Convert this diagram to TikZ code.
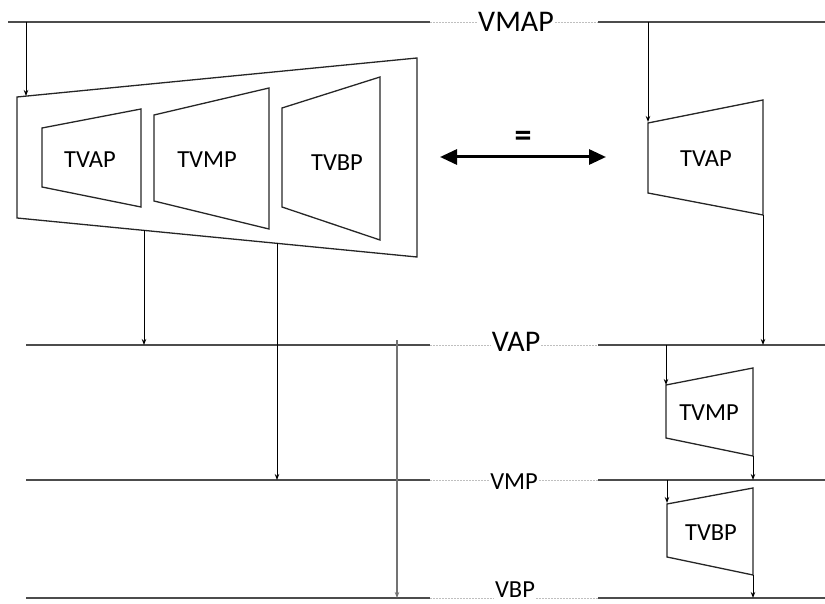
\documentclass[tikz,border=0pt]{standalone}
\usepackage{fontspec}
\setmainfont{Carlito}
\usetikzlibrary{arrows.meta}
\begin{document}
\begin{tikzpicture}[x=1pt,y=-1pt,
  bus/.style={draw=black!70, line width=1.6pt},
  gap/.style={draw=black!25, line width=0.8pt, dash pattern=on 2pt off 1pt},
  turb/.style={draw=black!85, line width=1.3pt, line join=miter},
  flow/.style={draw=black, line width=1pt, -{Stealth[length=6pt,width=4.5pt]}},
  grayflow/.style={draw=black!55, line width=1.4pt, -{Stealth[length=6pt,width=4.5pt]}},
  lbl/.style={font=\fontsize{24.5}{24.5}\selectfont, inner sep=0pt},
  buslbl/.style={font=\fontsize{30}{30}\selectfont, inner sep=1pt},
  smallbus/.style={font=\fontsize{24.5}{24.5}\selectfont, inner sep=1pt}]
\useasboundingbox (0,0) rectangle (825,604);

% ---------- buses ----------
% VMAP
\coordinate (vmapL) at (8,22);
\coordinate (vmapA) at (430,22);
\node[buslbl] (vmap) at (516,22) {VMAP};
\coordinate (vmapB) at (598,22);
\coordinate (vmapR) at (825,22);
\draw[bus] (vmapL) -- (vmapA);
\draw[gap] (vmapA) -- (vmap.west |- vmapA);
\draw[gap] (vmap.east |- vmapA) -- (vmapB);
\draw[bus] (vmapB) -- (vmapR);
% VAP
\coordinate (vapL) at (26,345);
\coordinate (vapA) at (430,345);
\node[buslbl] (vap) at (516,342) {VAP};
\coordinate (vapB) at (598,345);
\coordinate (vapR) at (825,345);
\draw[bus] (vapL) -- (vapA);
\draw[gap] (vapA) -- (vap.west |- vapA);
\draw[gap] (vap.east |- vapA) -- (vapB);
\draw[bus] (vapB) -- (vapR);
% VMP
\coordinate (vmpL) at (26,480);
\coordinate (vmpA) at (430,480);
\node[smallbus] (vmp) at (514,482) {VMP};
\coordinate (vmpB) at (598,480);
\coordinate (vmpR) at (825,480);
\draw[bus] (vmpL) -- (vmpA);
\draw[gap] (vmpA) -- (vmp.west |- vmpA);
\draw[gap] (vmp.east |- vmpA) -- (vmpB);
\draw[bus] (vmpB) -- (vmpR);
% VBP
\coordinate (vbpL) at (26,598);
\coordinate (vbpA) at (430,598);
\node[smallbus] (vbp) at (515,590) {VBP};
\coordinate (vbpB) at (598,598);
\coordinate (vbpR) at (825,598);
\draw[bus] (vbpL) -- (vbpA);
\draw[gap] (vbpA) -- (vbp.west |- vbpA);
\draw[gap] (vbp.east |- vbpA) -- (vbpB);
\draw[bus] (vbpB) -- (vbpR);

% ---------- left: combined turbine ----------
\draw[turb] (17,97) -- (417,58) -- (417,257) -- (17,218) -- cycle;
\draw[turb] (42,128) -- (141,109) -- (141,207) -- (42,187) -- cycle;
\node[lbl] (ltvap) at (90,160) {TVAP};
\draw[turb] (154,115) -- (269,88) -- (269,229) -- (154,201) -- cycle;
\node[lbl] (ltvmp) at (207,160) {TVMP};
\draw[turb] (282,108) -- (380,77) -- (380,240) -- (282,207) -- cycle;
\node[lbl] (ltvbp) at (337,163) {TVBP};

\coordinate (inBig) at (26,96);
\coordinate (tapA) at (26,22);
\draw[flow] (tapA) -- (inBig);
\coordinate (outA) at (144,230);
\coordinate (toVap) at (144,345);
\draw[flow] (outA) -- (toVap);
\coordinate (outB) at (277,243);
\coordinate (toVmp) at (277,480);
\draw[flow] (outB) -- (toVmp);
\coordinate (outC) at (397,340);
\coordinate (toVbp) at (397,598);
\draw[grayflow] (outC) -- (toVbp);

% ---------- equivalence ----------
\coordinate (eqL) at (440,157);
\coordinate (eqR) at (606,157);
\draw[line width=3pt, {Triangle[length=17pt,width=15pt]}-{Triangle[length=17pt,width=15pt]}] (eqL) -- (eqR);
\node[font=\fontsize{34}{34}\selectfont\bfseries, inner sep=0pt] (eq) at (523,139) {=};

% ---------- right: separate turbines ----------
\draw[turb] (648,123) -- (763,100) -- (763,215) -- (648,193) -- cycle;
\node[lbl] (rtvap) at (706,159) {TVAP};
\draw[turb] (666,385) -- (753,368) -- (753,456) -- (666,438) -- cycle;
\node[lbl] (rtvmp) at (709,413) {TVMP};
\draw[turb] (667,504) -- (753,488) -- (753,575) -- (667,557) -- cycle;
\node[lbl] (rtvbp) at (711,533) {TVBP};

\coordinate (r1a) at (648,22);  \coordinate (r1b) at (648,122);
\draw[flow] (r1a) -- (r1b);
\coordinate (r2a) at (763,215); \coordinate (r2b) at (763,345);
\draw[flow] (r2a) -- (r2b);
\coordinate (r3a) at (666,345); \coordinate (r3b) at (666,385);
\draw[flow] (r3a) -- (r3b);
\coordinate (r4a) at (753,456); \coordinate (r4b) at (753,480);
\draw[flow] (r4a) -- (r4b);
\coordinate (r5a) at (667,480); \coordinate (r5b) at (667,503);
\draw[flow] (r5a) -- (r5b);
\coordinate (r6a) at (753,575); \coordinate (r6b) at (753,598);
\draw[flow] (r6a) -- (r6b);
\end{tikzpicture}
\end{document}
